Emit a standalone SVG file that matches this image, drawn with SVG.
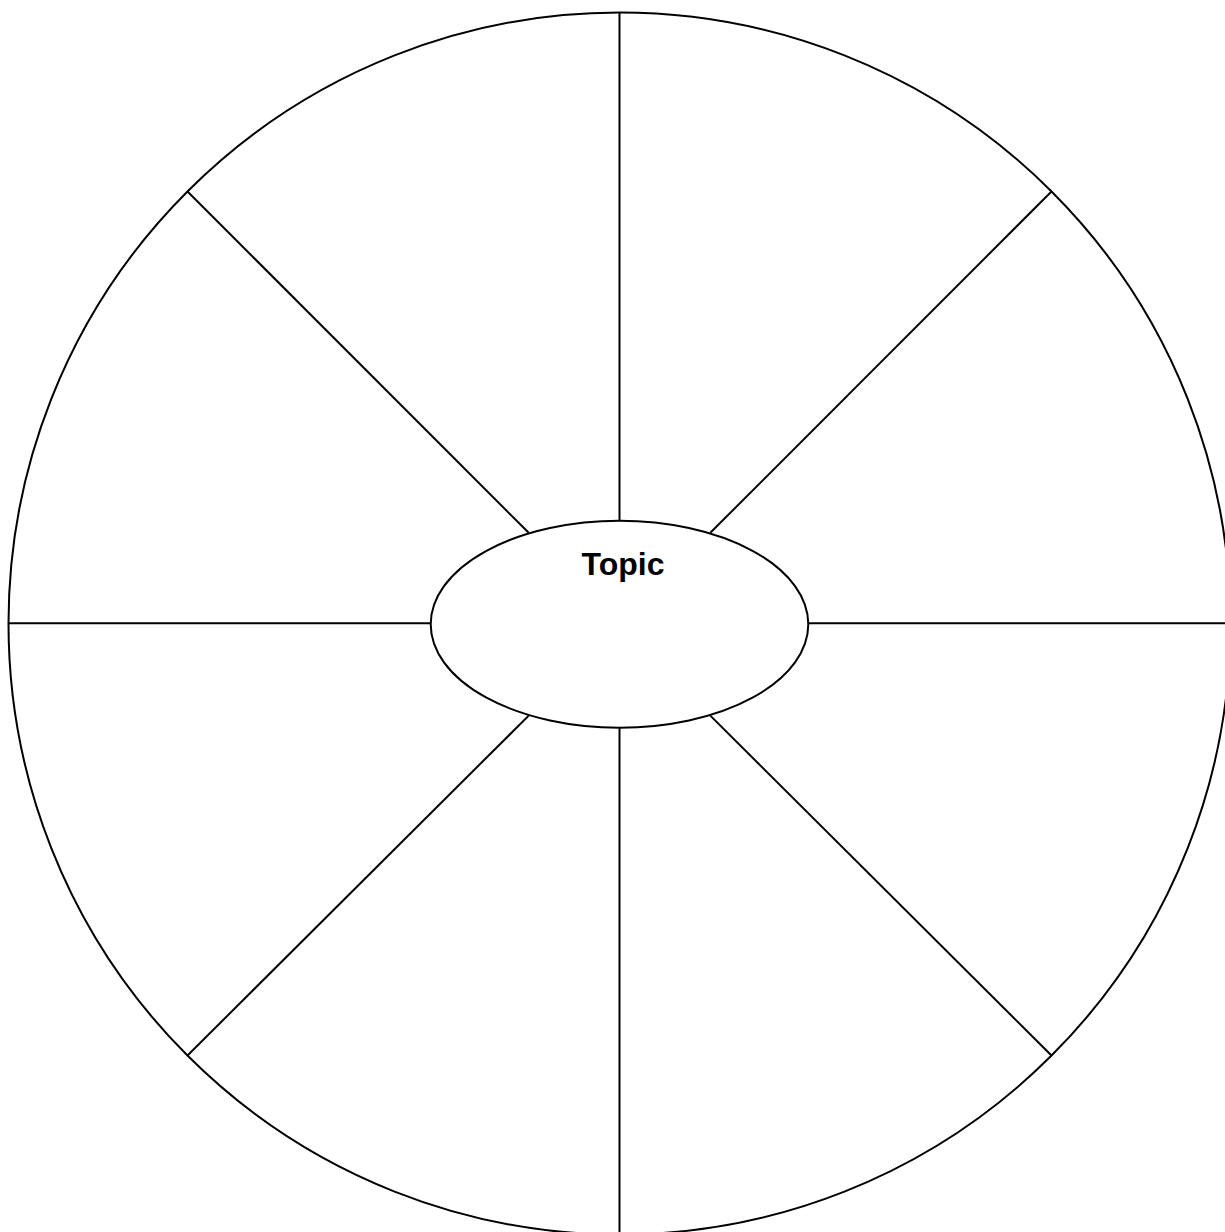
<svg xmlns="http://www.w3.org/2000/svg" width="1225" height="1232" viewBox="0 0 1225 1232">
<style>
.s{fill:none;stroke:#000;stroke-width:2}
.w{fill:#fff;stroke:#000;stroke-width:2}
.t{font-family:"Liberation Sans",Arial,sans-serif;font-weight:bold;font-size:32px;fill:#000}
</style>
<rect width="1225" height="1232" fill="#fff"/>
<g id="wheel"><circle class="w" cx="619.5" cy="623.5" r="611"/></g>
<g id="connectors">
<line class="s" x1="619.5" y1="12.5" x2="619.5" y2="520.7"/>
<line class="s" x1="619.5" y1="727.7" x2="619.5" y2="1240"/>
<line class="s" x1="8.5" y1="623.3" x2="430.7" y2="623.3"/>
<line class="s" x1="808.3" y1="623.3" x2="1235" y2="623.3"/>
<line class="s" x1="187.5" y1="191.5" x2="528.7" y2="532.8"/>
<line class="s" x1="1051.5" y1="191.5" x2="710.3" y2="532.8"/>
<line class="s" x1="187.5" y1="1055.5" x2="528.7" y2="715.6"/>
<line class="s" x1="1051.5" y1="1055.5" x2="710.3" y2="715.6"/>
</g>
<g id="topic">
<ellipse class="w" cx="619.5" cy="624.2" rx="188.8" ry="103.5"/>
<text class="t" x="623" y="575" text-anchor="middle">Topic</text>
</g>
</svg>
